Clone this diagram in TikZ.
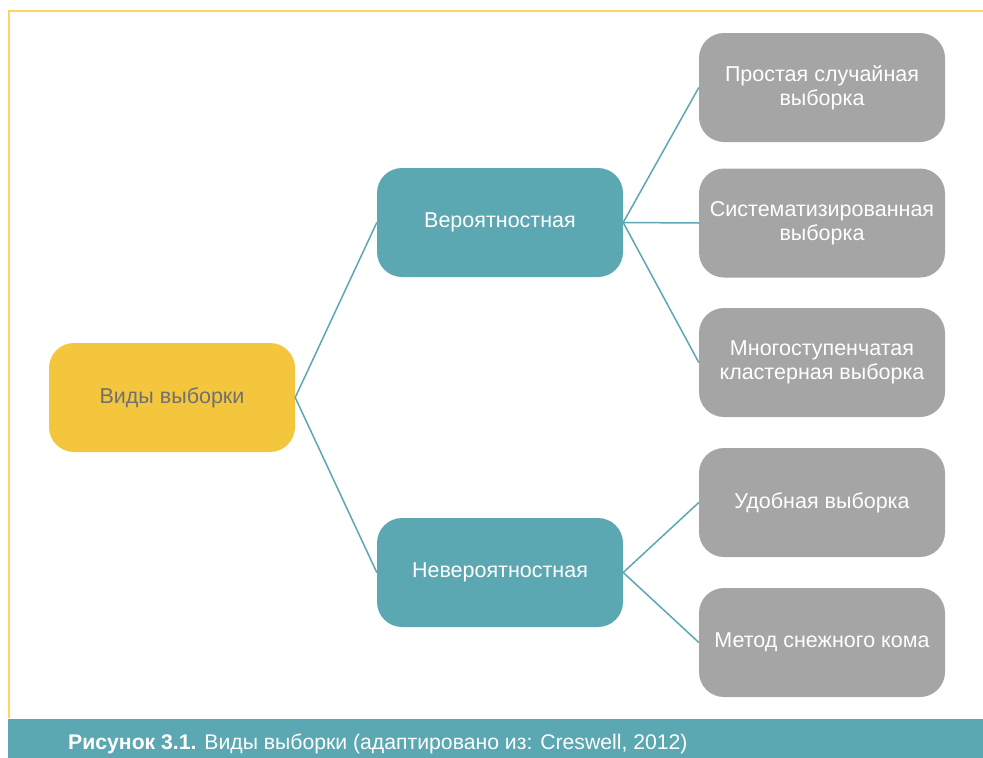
\documentclass[tikz,border=0pt]{standalone}
\usepackage{fontspec}
\setmainfont{Liberation Sans}
\definecolor{vyellow}{HTML}{F4C63D}
\definecolor{vframe}{HTML}{FCD660}
\definecolor{vteal}{HTML}{5BA8B2}
\definecolor{vgrey}{HTML}{A5A5A5}
\definecolor{vtext}{HTML}{707070}
\tikzset{
  box/.style={rounded corners=25pt, minimum width=246pt, minimum height=109pt,
    align=center, inner sep=0pt, font=\fontsize{21.5}{24.5}\selectfont},
  rootbox/.style={box, fill=vyellow, text=vtext},
  typebox/.style={box, fill=vteal, text=white},
  kindbox/.style={box, fill=vgrey, text=white},
  link/.style={draw=vteal, line width=1.5pt},
}
\begin{document}
\begin{tikzpicture}[x=1pt,y=-1pt]
  \useasboundingbox (0,0) rectangle (983,758);
  % frame and caption bar
  \draw[vframe, line width=2pt] (9,718) -- (9,10.5) -- (983,10.5);
  \fill[vteal] (8,719) rectangle (983,758);
  \node[anchor=base west, text=white, inner sep=0pt, font=\fontsize{21.2}{24}\selectfont]
    (caption) at (68,749.5) {\textbf{Рисунок 3.1.} Виды выборки (адаптировано из: Creswell, 2012)};

  % tree
  \node[rootbox] (root) at (172,397.5) {Виды выборки};
  \node[typebox] (prob) at (500,222.5) {Вероятностная};
  \node[typebox] (nonprob) at (500,572.5) {Невероятностная};
  \node[kindbox] (simple) at (822,87.5) {Простая случайная\\выборка};
  \node[kindbox] (system) at (822,223) {Систематизированная\\выборка};
  \node[kindbox] (cluster) at (822,362.5) {Многоступенчатая\\кластерная выборка};
  \node[kindbox] (conv) at (822,502.5) {Удобная выборка};
  \node[kindbox] (snow) at (822,642.5) {Метод снежного кома};

  \draw[link] (root.east) -- (prob.west);
  \draw[link] (root.east) -- (nonprob.west);
  \foreach \k in {simple,system,cluster}
    \draw[link] (prob.east) -- (\k.west);
  \foreach \k in {conv,snow}
    \draw[link] (nonprob.east) -- (\k.west);
\end{tikzpicture}
\end{document}
